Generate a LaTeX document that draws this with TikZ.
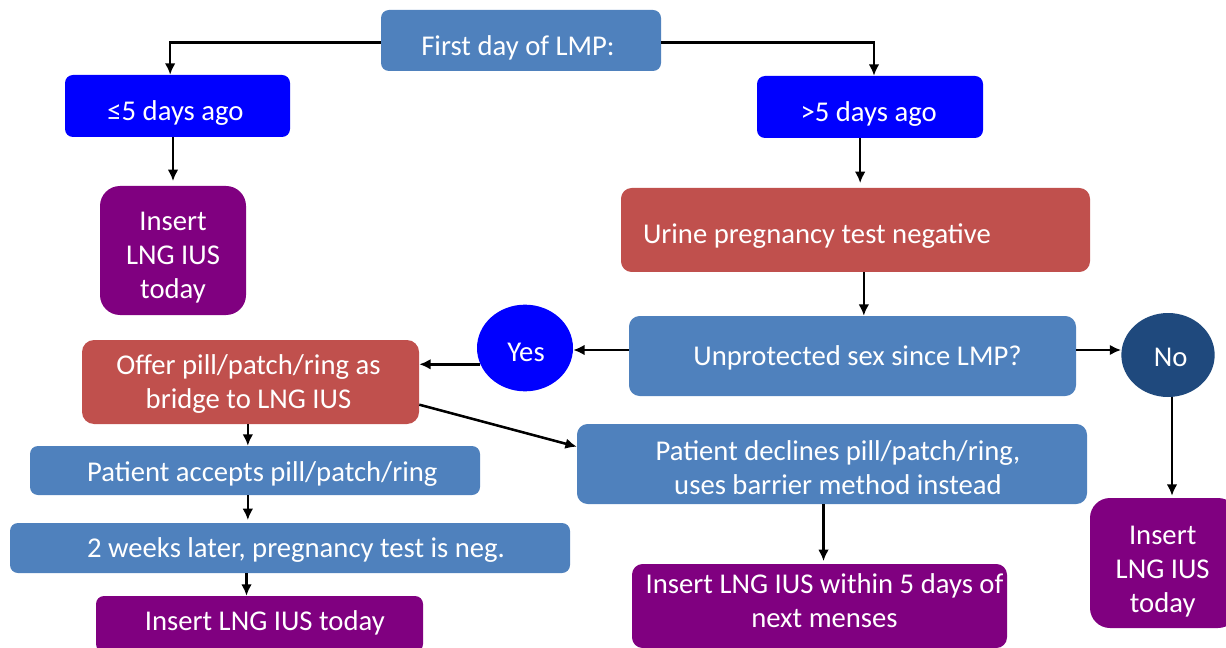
\documentclass[tikz,border=0pt]{standalone}
\usepackage{fontspec}
\setmainfont{Carlito}
\usetikzlibrary{shapes.geometric,arrows.meta,calc}
\definecolor{steel}{HTML}{4F81BD}
\definecolor{pureblue}{HTML}{0000FF}
\definecolor{purp}{HTML}{800080}
\definecolor{brick}{HTML}{C0504D}
\definecolor{navy}{HTML}{1F497D}
\tikzset{
  lab/.style={text=white, align=center, inner sep=0pt, font=\fontsize{21.5}{25.5}\selectfont},
  T/.style n args={3}{label={[lab,xshift=#1,yshift=#2]center:{#3}}},
  box/.style n args={4}{inner sep=0pt, rounded corners=6pt,
    minimum width={(#3-#1)*0.75pt}, minimum height={(#4-#2)*0.75pt},
    at={({(#1+#3)/2},{(#2+#4)/2})}},
  sfill/.style={fill=steel},
  bfill/.style={fill=pureblue},
  pfill/.style={fill=purp},
  rfill/.style={fill=brick},
  circ/.style={ellipse, inner sep=0pt},
  arr/.style={-{Latex[length=8.5pt,width=8pt]}, line width=1.9pt, black},
}
\begin{document}
\begin{tikzpicture}[x=0.75pt,y=-0.75pt]
\useasboundingbox (0,0) rectangle (1226,648);
\clip (0,0) rectangle (1226,648);
\node[box={381}{10}{661}{71}, sfill, T={-2.25pt}{-5.5pt}{First day of LMP:}] (first) {};
\node[box={65}{75}{290}{137}, bfill, T={-1.5pt}{-5pt}{≤5 days ago}] (le5) {};
\node[box={757}{76}{983}{138}, bfill, T={-1pt}{-5pt}{>5 days ago}] (gt5) {};
\node[box={100}{186}{246}{315}, pfill, rounded corners=15pt, T={0pt}{-5.5pt}{Insert\\LNG IUS\\today}] (insL) {};
\node[box={621}{188}{1090}{272}, rfill, rounded corners=8pt,
  label={[lab, anchor=west, xshift=16.5pt, yshift=-4.5pt]west:{Urine pregnancy test negative}}] (urine) {};
\node[box={629}{316}{1076}{396}, sfill, rounded corners=8pt, T={3.75pt}{-1.5pt}{Unprotected sex since LMP?}] (unprot) {};
\node[circ, fill=pureblue, minimum width=72pt, minimum height=65pt, T={0.75pt}{-3.5pt}{Yes}] (yes) at (525,348) {};
\node[circ, fill=navy, minimum width=70pt, minimum height=63pt, T={2pt}{-2pt}{No}] (no) at (1168,355) {};
\node[box={82}{340}{419}{424}, rfill, rounded corners=9pt, T={-1.5pt}{-1.5pt}{Offer pill/patch/ring as\\bridge to LNG IUS}] (offer) {};
\node[box={30}{446}{480}{495}, sfill, T={5.5pt}{-2.5pt}{Patient accepts pill/patch/ring}] (accepts) {};
\node[box={10}{523}{570}{573}, sfill, T={4.5pt}{-1.5pt}{2 weeks later, pregnancy test is neg.}] (twoweeks) {};
\node[box={96}{596}{423}{652}, pfill, T={4pt}{1pt}{Insert LNG IUS today}] (insB) {};
\node[box={577}{424}{1087}{504}, sfill, rounded corners=8pt, T={4.5pt}{-2.5pt}{Patient declines pill/patch/ring,\\uses barrier method instead}] (declines) {};
\node[box={632}{564}{1007}{648}, pfill, rounded corners=8pt, T={3.75pt}{4pt}{Insert LNG IUS within 5 days of\\next menses}] (within) {};
\node[box={1090}{498}{1238}{628}, pfill, rounded corners=15pt, T={-1pt}{-6.5pt}{Insert\\LNG IUS\\today}] (insR) {};
% connectors
\draw[arr] ([yshift=-1.5pt]first.west) -| ([xshift=-5.5pt]le5.north);
\draw[arr] ([yshift=-1.5pt]first.east) -| ([xshift=3pt]gt5.north);
\draw[arr] (insL.north |- le5.south) -- ([yshift=3.5pt]insL.north);
\draw[arr] ([xshift=3.5pt]urine.north |- gt5.south) -- ([xshift=3.5pt,yshift=3.5pt]urine.north);
\draw[arr] ([xshift=8.5pt]unprot.north |- urine.south) -- ([xshift=8.5pt]unprot.north);
\draw[arr] ([yshift=-1.5pt]yes.east -| unprot.west) -- ([yshift=-1.5pt]yes.east);
\draw[arr] ([yshift=3.75pt]no.west -| unprot.east) -- ([yshift=3.75pt]no.west);
\draw[arr] (yes.200) -- (offer.east |- yes.200);
\draw[arr] ([yshift=-17pt]offer.east) -- ([yshift=13pt]declines.west);
\draw[arr] ([xshift=-2pt]offer.south) -- ([xshift=-2pt]offer.south |- accepts.north);
\draw[arr] ([xshift=-2pt]offer.south |- accepts.south) -- ([xshift=-2pt,yshift=2pt]offer.south |- twoweeks.north);
\draw[arr] ([xshift=-3pt]offer.south |- twoweeks.south) -- ([xshift=-3pt]offer.south |- insB.north);
\draw[arr] ([xshift=3pt]no.south) -- ([xshift=3pt,yshift=1.5pt]no.south |- insR.north);
\draw[arr] ([xshift=3pt]within.north |- declines.south) -- ([xshift=3pt,yshift=2pt]within.north);
\end{tikzpicture}
\end{document}
